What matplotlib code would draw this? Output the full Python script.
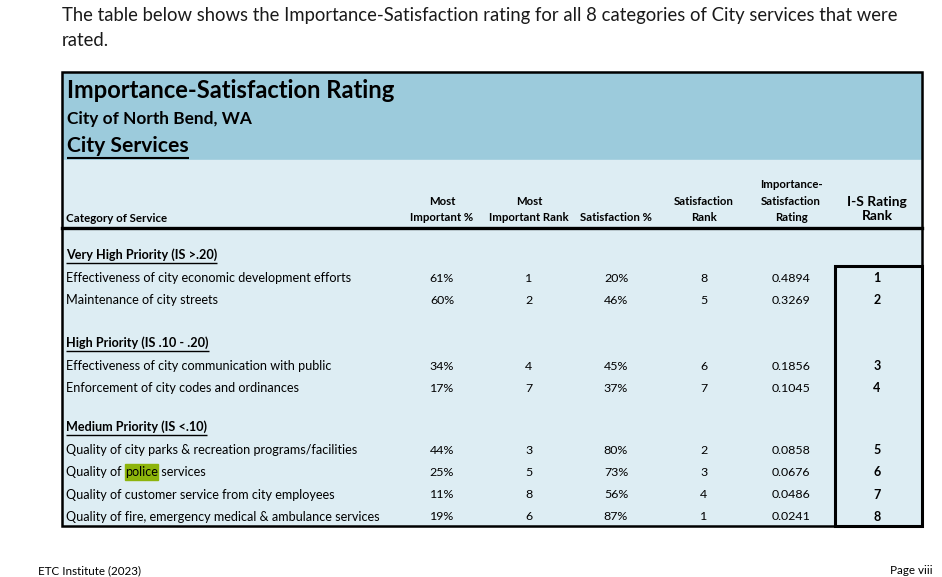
import matplotlib.pyplot as plt
from matplotlib.patches import Rectangle

plt.rcParams['font.family'] = ['Lato', 'DejaVu Sans']

intro = ["The table below shows the Importance-Satisfaction rating for all 8 categories of City services that were",
         "rated."]
title = "Importance-Satisfaction Rating"
subtitle = "City of North Bend, WA"
section = "City Services"

groups = ["Very High Priority (IS >.20)", "High Priority (IS .10 - .20)", "Medium Priority (IS <.10)"]
group_sizes = [2, 2, 4]

categories = ["Effectiveness of city economic development efforts",
              "Maintenance of city streets",
              "Effectiveness of city communication with public",
              "Enforcement of city codes and ordinances",
              "Quality of city parks & recreation programs/facilities",
              "Quality of police services",
              "Quality of customer service from city employees",
              "Quality of fire, emergency medical & ambulance services"]
most_imp_pct = [61, 60, 34, 17, 44, 25, 11, 19]
most_imp_rank = [1, 2, 4, 7, 3, 5, 8, 6]
sat_pct = [20, 46, 45, 37, 80, 73, 56, 87]
sat_rank = [8, 5, 6, 7, 2, 3, 4, 1]
is_rating = [0.4894, 0.3269, 0.1856, 0.1045, 0.0858, 0.0676, 0.0486, 0.0241]
is_rank = [1, 2, 3, 4, 5, 6, 7, 8]

col_headers = ["Most\nImportant %", "Most\nImportant Rank", "Satisfaction %",
               "Satisfaction\nRank", "Importance-\nSatisfaction\nRating"]

W, H = 942, 577
fig = plt.figure(figsize=(W / 100, H / 100), dpi=100)
ax = fig.add_axes([0, 0, 1, 1])
ax.set_xlim(0, W)
ax.set_ylim(H, 0)
ax.axis('off')

dark = '#9ccbdc'
light = '#ddedf3'
left, right, top, bottom = 62, 922, 72, 526
body_fs = 9.1

# backgrounds
ax.add_patch(Rectangle((left, top), right - left, 88, color=dark, zorder=0))
ax.add_patch(Rectangle((left, 160), right - left, bottom - 160, color=light, zorder=0))

# intro paragraph
ax.text(62, 16, intro[0], fontsize=13.35, va='center', color='#1a1a1a')
ax.text(62, 40, intro[1], fontsize=13.35, va='center', color='#1a1a1a')

renderer = fig.canvas.get_renderer()


def underline(t, y, lw=1.0):
    bb = t.get_window_extent(renderer=renderer)
    x0, x1 = bb.x0, bb.x1
    ax.plot([x0, x1], [y, y], color='black', lw=lw, solid_capstyle='butt', zorder=3)


ax.text(67, 90, title, fontsize=17.1, fontweight='bold', va='center')
ax.text(67, 119, subtitle, fontsize=12.4, fontweight='bold', va='center')
t = ax.text(67, 146, section, fontsize=15.2, fontweight='bold', va='center')
underline(t, 157.5, 1.5)

# column headers
col_x = [442, 529, 616, 704, 791]
for x, h in zip(col_x, col_headers):
    ax.text(x, 223, h, fontsize=8.2, fontweight='bold', ha='center', va='bottom', linespacing=1.6)
ax.text(877, 222, "I-S Rating\nRank", fontsize=9.9, fontweight='bold', ha='center', va='bottom', linespacing=1.25)
ax.text(66, 219, "Category of Service", fontsize=8.3, fontweight='bold', va='center')

# body rows
heading_y = [255, 343, 427]
i = 0
for g, n, hy in zip(groups, group_sizes, heading_y):
    t = ax.text(66, hy, g, fontsize=body_fs, fontweight='bold', va='center')
    underline(t, hy + 7.5, 1.0)
    for k in range(n):
        y = hy + 23 + 22.3 * k
        name = categories[i]
        if 'police' in name:
            pre = ax.text(66, y, "Quality of ", fontsize=body_fs, va='center')
            bb = pre.get_window_extent(renderer=renderer)
            hl = ax.text(bb.x1, y, "police", fontsize=body_fs, va='center')
            hb = hl.get_window_extent(renderer=renderer)
            ax.add_patch(Rectangle((hb.x0, y - 8), hb.x1 - hb.x0, 16, color='#8db40c', zorder=1))
            ax.text(hb.x1, y, " services", fontsize=body_fs, va='center')
        else:
            ax.text(66, y, name, fontsize=body_fs, va='center')
        vals = [f"{most_imp_pct[i]}%", f"{most_imp_rank[i]}", f"{sat_pct[i]}%",
                f"{sat_rank[i]}", f"{is_rating[i]:.4f}"]
        for x, v in zip(col_x, vals):
            ax.text(x, y, v, fontsize=8.9, ha='center', va='center')
        ax.text(877, y, str(is_rank[i]), fontsize=9.0, fontweight='bold', ha='center', va='center')
        i += 1

# borders
ax.add_patch(Rectangle((left, top), right - left, bottom - top, fill=False, ec='black', lw=1.8, zorder=4))
ax.plot([left, right], [228, 228], color='black', lw=2.4, zorder=4)
ax.add_patch(Rectangle((835, 266), right - 835, bottom - 266, fill=False, ec='black', lw=2.2, zorder=4))

# footer
ax.text(38, 576, "ETC Institute (2023)", fontsize=8.4, va='bottom')
ax.text(933, 576, "Page viii", fontsize=8.4, va='bottom', ha='right')

fig.savefig('out.png', dpi=100)
